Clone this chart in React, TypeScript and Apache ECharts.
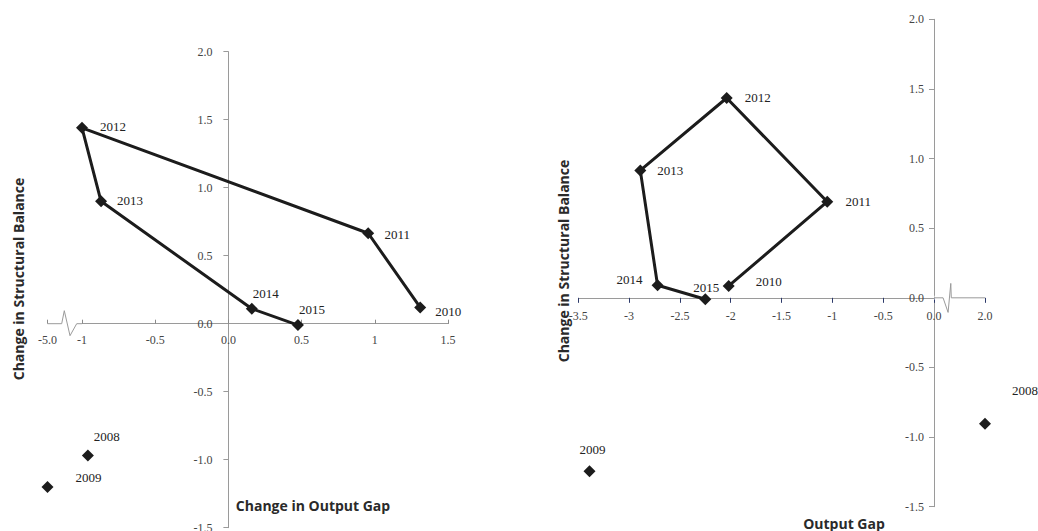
import React, { useEffect, useRef } from "react";
import * as echarts from "echarts";

// ---------- data ----------
const years = ["2008", "2009", "2010", "2011", "2012", "2013", "2014", "2015"];
// Left panel: change in output gap (x) vs change in structural balance (y)
const leftGap = [-0.96, -5.0, 1.31, 0.955, -1.0, -0.87, 0.16, 0.475];
const leftBal = [-0.97, -1.2, 0.12, 0.665, 1.44, 0.9, 0.11, -0.01];
// Right panel: output gap (x) vs change in structural balance (y)
const rightGap = [2.0, -3.39, -2.02, -1.05, -2.04, -2.89, -2.72, -2.25];
const rightBal = [-0.905, -1.245, 0.085, 0.69, 1.435, 0.915, 0.09, -0.01];

const pathYears = ["2010", "2011", "2012", "2013", "2014", "2015"];
const loneYears = ["2008", "2009"];

const leftXTicks = { min: -5, max: 1.5, breakStart: -5, breakEnd: -1, gap: 0.2357 };
const rightXTicks = { min: -3.5, max: 2.0, breakStart: 0, breakEnd: 2, gap: 0.502 };
const yTicks = { min: -1.5, max: 2.0, interval: 0.5 };

const leftXName = "Change in Output Gap";
const rightXName = "Output Gap";
const yName = "Change in Structural Balance";

// label offsets (label centre relative to point), styling only
const leftLabelOffset: Record<string, number[]> = {
  "2008": [19, -19], "2009": [41, -9], "2010": [28, 4], "2011": [29, 1],
  "2012": [31, -1], "2013": [29, -1], "2014": [14, -15], "2015": [14, -16],
};
const rightLabelOffset: Record<string, number[]> = {
  "2008": [40, -33], "2009": [3, -22], "2010": [40, -4], "2011": [31, 0],
  "2012": [31, 0], "2013": [30, 0], "2014": [-28, -6], "2015": [1, -12],
};

const SERIF = "'Liberation Serif', 'DejaVu Serif', serif";
const SANS = "'Open Sans', 'Noto Sans', sans-serif";
const INK = "#1c1c1c";
const AXIS = "#9a9a9a";

function points(gaps: number[], bals: number[], list: string[], offs: Record<string, number[]>) {
  return list.map((y) => {
    const i = years.indexOf(y);
    return { name: y, value: [gaps[i], bals[i]], label: { offset: offs[y] } };
  });
}

function fmtX(v: number) {
  if (Math.abs(v * 2 - Math.round(v * 2)) > 1e-6) return "";
  if (v === 0) return "0.0";
  if (v === -5 || v === 2) return v.toFixed(1);
  return String(v);
}

export default function App() {
  const ref = useRef<HTMLDivElement>(null);
  useEffect(() => {
    if (!ref.current) return;
    const chart = echarts.init(ref.current, undefined, { renderer: "svg" });

    const labelStyle = {
      show: true,
      position: "inside",
      formatter: (p: any) => p.name,
      color: "#222",
      fontFamily: SERIF,
      fontSize: 13,
    };
    const yAxisBase = (gridIndex: number, margin: number) => ({
      type: "value",
      gridIndex,
      min: yTicks.min,
      max: yTicks.max,
      interval: yTicks.interval,
      splitLine: { show: false },
      axisLine: { show: true, onZero: false, lineStyle: { color: AXIS, width: 1 } },
      axisTick: { show: true, length: 5, lineStyle: { color: AXIS } },
      axisLabel: {
        margin,
        color: "#444",
        fontFamily: SERIF,
        fontSize: 12,
        showMinLabel: true,
        showMaxLabel: true,
        hideOverlap: false,
        formatter: (v: number) => v.toFixed(1),
      },
    });
    const xAxisBase = (gridIndex: number, t: any, tick: any, margin: number) => ({
      type: "value",
      gridIndex,
      position: "bottom",
      min: t.min,
      max: t.max,
      interval: 0.5,
      breaks: [{ start: t.breakStart, end: t.breakEnd, gap: t.gap }],
      breakArea: { show: false },
      splitLine: { show: false },
      axisLine: { show: true, onZero: false, lineStyle: { color: AXIS, width: 1 } },
      axisTick: tick,
      axisLabel: {
        margin,
        color: "#444",
        fontFamily: SERIF,
        fontSize: 12,
        showMinLabel: true,
        showMaxLabel: true,
        hideOverlap: false,
        interval: 0,
        formatter: fmtX,
      },
    });

    const seriesBase = (axis: number, kind: string, data: any[]) => ({
      type: kind,
      xAxisIndex: axis,
      yAxisIndex: axis,
      data,
      symbol: "diamond",
      symbolSize: 12,
      lineStyle: { color: INK, width: 3 },
      itemStyle: { color: INK, opacity: 1 },
      label: labelStyle,
      z: 5,
    });
    chart.setOption({
      animation: false,
      grid: [
        { left: 47.5, right: 590, top: 51.7, bottom: 3.3, containLabel: false, outerBoundsMode: "none" },
        { left: 578.3, right: 53, top: 19.3, bottom: 24.3, containLabel: false, outerBoundsMode: "none" },
      ],
      xAxis: [
        xAxisBase(0, leftXTicks, { show: true, inside: true, length: 4, lineStyle: { color: "#8a8a8a" } }, 10),
        xAxisBase(1, rightXTicks, { show: true, inside: false, length: 5, lineStyle: { color: "#2d3a6b" } }, 12),
      ],
      yAxis: [yAxisBase(0, 16), yAxisBase(1, 10)],
      series: [
        seriesBase(0, "line", points(leftGap, leftBal, pathYears, leftLabelOffset)),
        seriesBase(0, "scatter", points(leftGap, leftBal, loneYears, leftLabelOffset)),
        seriesBase(1, "line", points(rightGap, rightBal, pathYears, rightLabelOffset)),
        seriesBase(1, "scatter", points(rightGap, rightBal, loneYears, rightLabelOffset)),
      ],
    });

    // move axes so they cross at zero, using the axes' own scales
    const Lz = chart.convertToPixel({ gridIndex: 0 }, [0, 0]) as number[];
    const Lc = chart.convertToPixel({ gridIndex: 0 }, [leftXTicks.min, yTicks.min]) as number[];
    const Rz = chart.convertToPixel({ gridIndex: 1 }, [0, 0]) as number[];
    const Rc = chart.convertToPixel({ gridIndex: 1 }, [rightXTicks.min, yTicks.min]) as number[];
    const Lm = chart.convertToPixel({ gridIndex: 0 }, [leftXTicks.min, 0]) as number[];
    const Le = chart.convertToPixel({ gridIndex: 0 }, [leftXTicks.breakEnd, 0]) as number[];
    const Re = chart.convertToPixel({ gridIndex: 1 }, [rightXTicks.breakEnd, 0]) as number[];

    const zig = (x0: number, y0: number, x1: number, pts: number[][]) => [
      { type: "rect", shape: { x: x0 + 0.5, y: y0 - 2, width: x1 - x0 - 1, height: 4 }, style: { fill: "#fff" }, z: 50 },
      {
        type: "polyline",
        shape: { points: [[x0, y0], ...pts.map((p) => [p[0] + x0, p[1] + y0]), [x1, y0]] },
        style: { stroke: AXIS, lineWidth: 1, fill: null },
        z: 51,
      },
    ];
    const nameStyle = { fontFamily: SANS, fontWeight: "bold", fontSize: 14, fill: "#2a2a2a" };
    chart.setOption({
      xAxis: [{ offset: -(Lc[1] - Lz[1]) }, { offset: -(Rc[1] - Rz[1]) }],
      yAxis: [{ offset: -(Lz[0] - Lc[0]) }, { offset: -(Rz[0] - Rc[0]) }],
      graphic: [
        ...zig(Lm[0], Lm[1], Le[0], [[14.2, 0], [16.8, -13], [22.5, 12], [29.2, 0]]),
        ...zig(Rz[0], Rz[1], Re[0], [[9.1, 0], [14.1, 14.6], [16.8, -14.4], [17.3, 0]]),
        { type: "text", x: 313, y: 505, style: { ...nameStyle, text: leftXName, align: "center", verticalAlign: "middle" }, z: 60 },
        { type: "text", x: 18, y: 279, rotation: Math.PI / 2, style: { ...nameStyle, text: yName, align: "center", verticalAlign: "middle" }, z: 60 },
        { type: "text", x: 563, y: 261, rotation: Math.PI / 2, style: { ...nameStyle, text: yName, align: "center", verticalAlign: "middle" }, z: 60 },
        { type: "text", x: 844, y: 523, style: { ...nameStyle, text: rightXName, align: "center", verticalAlign: "middle" }, z: 60 },
      ],
    });

    return () => chart.dispose();
  }, []);
  return (
    <div
      ref={ref}
      style={{ position: "fixed", left: 0, top: 0, width: 1038, height: 531, background: "#fff" }}
    />
  );
}
